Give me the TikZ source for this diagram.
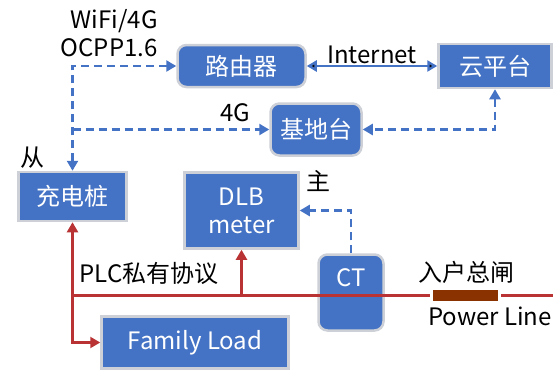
\documentclass[tikz,border=0pt]{standalone}
\usepackage{fontspec}
\setmainfont{Noto Sans CJK SC}
\usepackage{tikz}
\usetikzlibrary{arrows.meta}
\definecolor{boxblue}{HTML}{4472C4}
\definecolor{rimgray}{HTML}{CDD0D6}
\definecolor{plcred}{HTML}{B93234}
\definecolor{brkbrown}{HTML}{8B3300}
\tikzset{every picture/.style={line width=0.75pt}}

\begin{document}
\begin{tikzpicture}[x=1pt,y=-1pt,
    font=\fontsize{24}{28}\selectfont,
    box/.style={draw=rimgray, line width=2.5pt, fill=boxblue, text=white, inner sep=0pt, align=center},
    rbox/.style={box, rounded corners=9pt},
    bluedash/.style={draw=boxblue, line width=2.4pt, dash pattern=on 8pt off 5pt, >={Triangle[width=11pt,length=10pt]}},
    blueline/.style={draw=boxblue, line width=2.4pt, >={Triangle[width=11pt,length=10pt]}},
    redline/.style={draw=plcred, line width=2.2pt, >={Triangle[width=11pt,length=10pt]}}]
        \useasboundingbox (0,0) rectangle (558,372);

        \node[rbox, minimum width=128pt, minimum height=42pt] (router) at (241.5,66) {路由器};
        \node[box, minimum width=113pt, minimum height=44pt] (cloud) at (495,66) {云平台};
        \node[rbox, minimum width=91pt, minimum height=52pt] (station) at (316,129.5) {基地台};
        \node[box, minimum width=108pt, minimum height=49pt] (charger) at (72.5,196.5) {充电桩};
        \node[box, minimum width=114pt, minimum height=76pt] (dlb) at (241.5,210.5) {DLB\\meter};
        \node[rbox, minimum width=65pt, minimum height=76pt] (ct) at (351,292.5) {};
        \node[text=white] (ctname) at (351,278) {CT};
        \node[box, minimum width=187pt, minimum height=52pt] (load) at (195,342.5) {Family Load};
        \node[fill=brkbrown, minimum width=65pt, minimum height=11pt, inner sep=0pt] (brk) at (465.5,295.5) {};
        \coordinate (lineend) at (553,295.5);

        % labels
        \node[align=right, anchor=north east, inner sep=0pt] (wifi) at (158,9) {WiFi/4G\\OCPP1.6};
        \node (lte) at (235,113) {4G};
        \node (slave) at (32,158) {从};
        \node (master) at (318,181) {主};
        \node (plc) at (149,273) {PLC私有协议};
        \node (main) at (466,272) {入户总闸};
        \node (power) at (490,316) {Power Line};

        % links
        \draw[blueline, <->] (router) edge node[above, inner sep=1pt]{Internet} (cloud);
        \draw[bluedash, <->] (charger.north) |- (router.west);
        \draw[bluedash, ->] (charger.north |- station.west) -- (station.west);
        \draw[bluedash, <->] (cloud.south) |- (station.east);
        \draw[bluedash, ->] (ct.north) |- (dlb.east);

        % power line
        \draw[redline, <->] (charger.south) |- (load.west);
        \draw[redline] (charger.south |- brk.west) -- ([xshift=-3pt]brk.west);
        \draw[redline, ->] (dlb.south |- brk.west) -- (dlb.south);
        \draw[redline] ([xshift=3pt]brk.east) -- (lineend);
    \end{tikzpicture}
\end{document}
